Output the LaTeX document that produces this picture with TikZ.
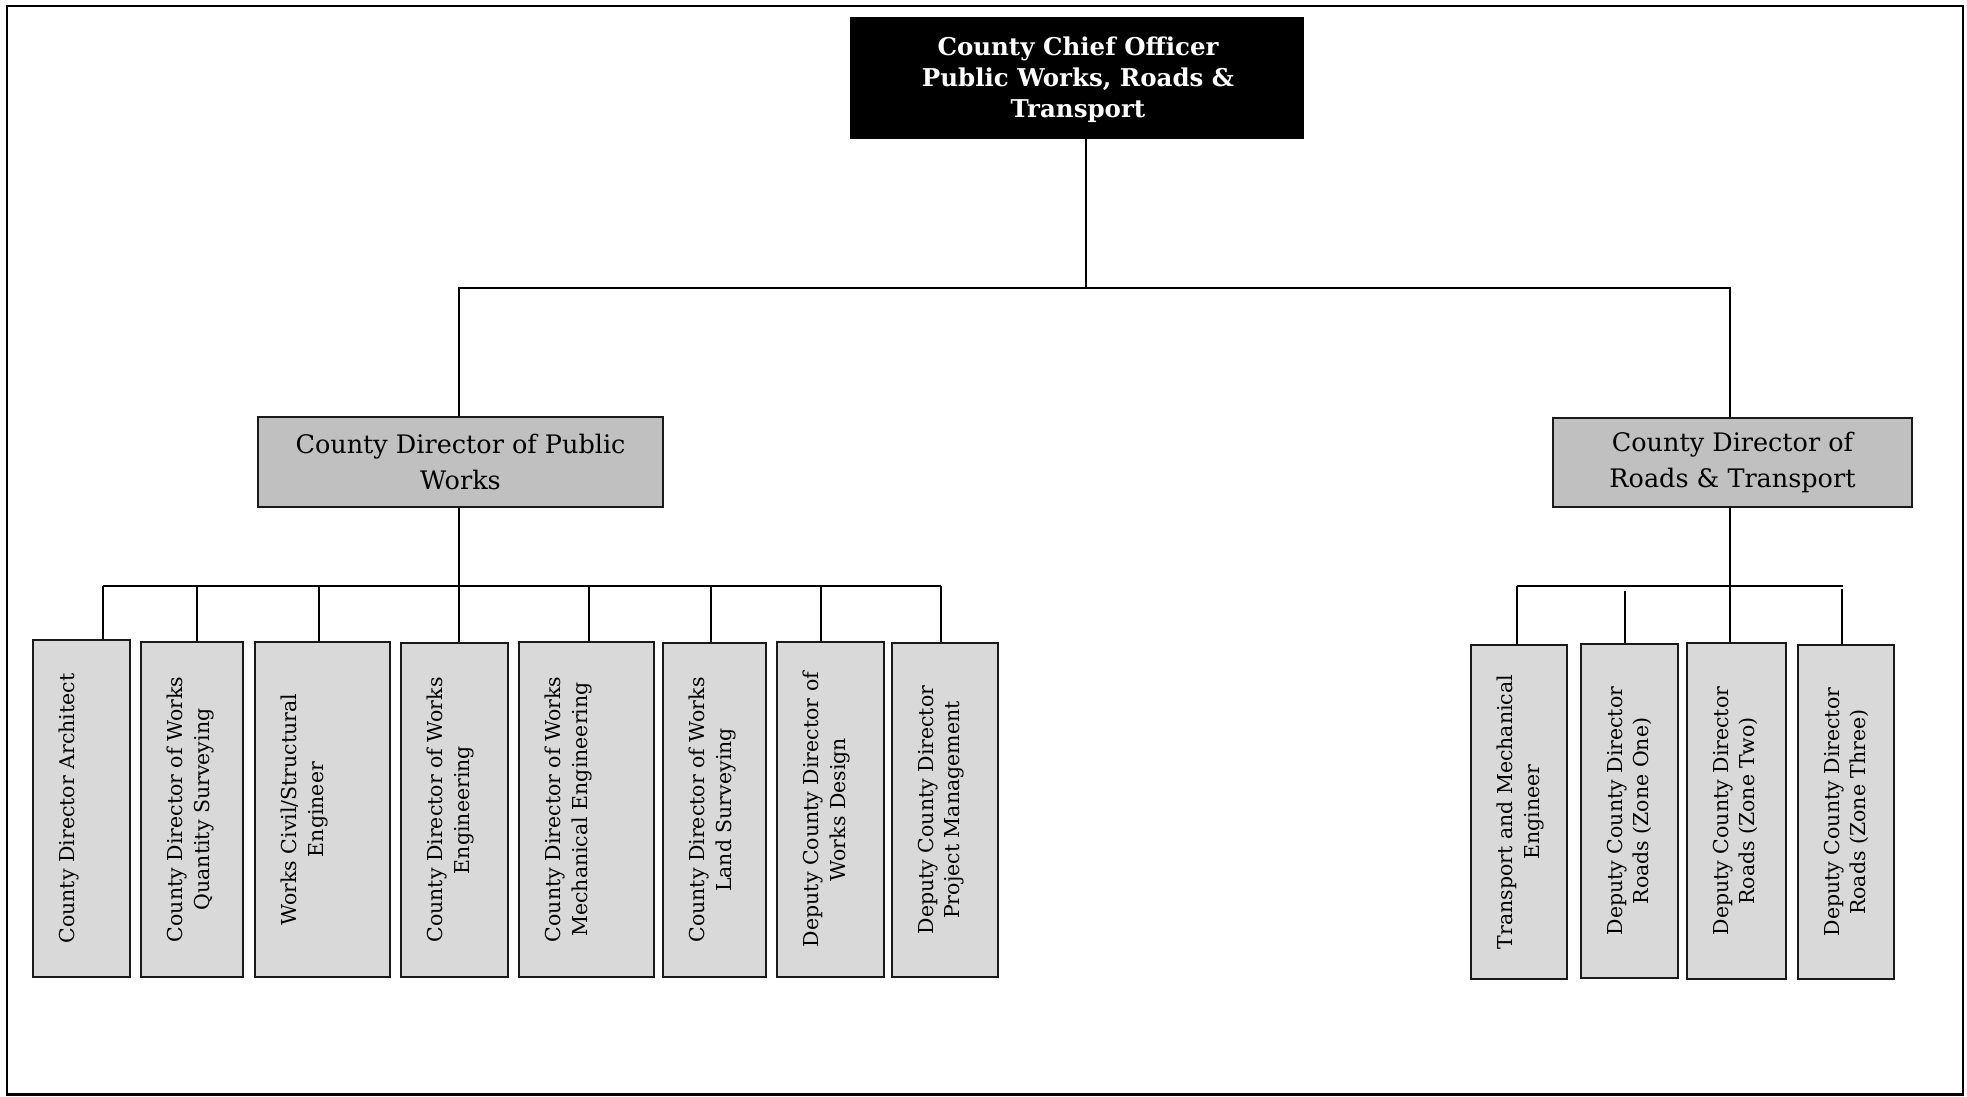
\documentclass[tikz,border=0pt]{standalone}
\usepackage{fontspec}
\setmainfont{DejaVu Serif}
\newfontfamily\headfont{DejaVu Serif}
\usetikzlibrary{fit}
\definecolor{leafgray}{HTML}{D9D9D9}
\definecolor{dirgray}{HTML}{C0C0C0}
\definecolor{edge}{HTML}{1A1A1A}
\tikzset{
  conn/.style={draw=black, line width=2pt},
  headbox/.style={fill=black, draw=black, inner sep=0pt},
  dirbox/.style={fill=dirgray, draw=edge, line width=2pt, inner sep=0pt},
  leafbox/.style={fill=leafgray, draw=edge, line width=2pt, inner sep=0pt},
  headtext/.style={text=white, align=center, inner sep=0pt,
    font=\headfont\bfseries\fontsize{24.5}{31}\selectfont},
  dirtext/.style={align=center, inner sep=0pt,
    font=\fontsize{25.5}{36}\selectfont},
  leaftext/.style={align=center, inner sep=0pt, rotate=90, anchor=north,
    font=\fontsize{20.5}{26.5}\selectfont},
}
\newcommand\leaf[6]{%
  \node[leafbox, fit={(#2,#3) (#4,#5)}] (#1) {};
  \path (#1.west) ++(27,0) node[leaftext] {#6};
}
\begin{document}
\begin{tikzpicture}[x=1pt, y=-1pt]
\useasboundingbox (0,0) rectangle (1967,1096);
\draw[line width=2.5pt] (7,6) rectangle (1963,1094.5);

% top of the chart
\node[headbox, fit={(850,17) (1303,138)}] (top) {};
\node[headtext] at ([xshift=1.5pt,yshift=-2pt]top.center)
  {County Chief Officer\\Public Works, Roads \&\\Transport};

% the two directorates
\node[dirbox, fit={(258,417) (663,507)}] (pw) {};
\node[dirtext] at (pw.center) {County Director of Public\\Works};
\node[dirbox, fit={(1553,418) (1912,507)}] (rt) {};
\node[dirtext] at (rt.center) {County Director of\\Roads \& Transport};

% sections under Public Works
\leaf{a1}{33}{640}{130}{977}{County Director Architect}
\leaf{a2}{141}{642}{243}{977}{County Director of Works\\Quantity Surveying}
\leaf{a3}{255}{642}{390}{977}{Works Civil/Structural\\Engineer}
\leaf{a4}{401}{643}{508}{977}{County Director of Works\\Engineering}
\leaf{a5}{519}{642}{654}{977}{County Director of Works\\Mechanical Engineering}
\leaf{a6}{663}{643}{766}{977}{County Director of Works\\Land Surveying}
\leaf{a7}{777}{642}{884}{977}{Deputy County Director of\\Works Design}
\leaf{a8}{892}{643}{998}{977}{Deputy County Director\\Project Management}

% sections under Roads & Transport
\leaf{r1}{1471}{645}{1567}{979}{Transport and Mechanical\\Engineer}
\leaf{r2}{1581}{644}{1678}{978}{Deputy County Director\\Roads (Zone One)}
\leaf{r3}{1687}{643}{1786}{979}{Deputy County Director\\Roads (Zone Two)}
\leaf{r4}{1798}{645}{1894}{979}{Deputy County Director\\Roads (Zone Three)}

% junction points
\coordinate (hub) at (1086,288);
\coordinate (lbus) at (459,586);
\coordinate (rbus) at (1730,586);
\coordinate (d1) at (103,586);
\coordinate (d2) at (197,586);
\coordinate (d3) at (319,586);
\coordinate (d5) at (589,586);
\coordinate (d6) at (711,586);
\coordinate (d7) at (821,586);
\coordinate (d8) at (941,586);
\coordinate (e1) at (1517,586);
\coordinate (e2) at (1625,591);
\coordinate (e4) at (1842,589);
\coordinate (eR) at (1843,586);

% connectors
\draw[conn] (top.south -| hub) -- (hub);
\draw[conn] (pw.north -| lbus) |- (hub) -| (rt.north -| rbus);
\draw[conn] (pw.south -| lbus) -- (a4.north -| lbus);
\draw[conn] (d1) -- (d8);
\foreach \d/\b in {d1/a1, d2/a2, d3/a3, d5/a5, d6/a6, d7/a7, d8/a8}
  \draw[conn] (\d) -- (\d |- \b.north);
\draw[conn] (rt.south -| rbus) -- (r3.north -| rbus);
\draw[conn] (e1) -- (eR);
\foreach \d/\b in {e1/r1, e2/r2, e4/r4}
  \draw[conn] (\d) -- (\d |- \b.north);
\end{tikzpicture}
\end{document}
